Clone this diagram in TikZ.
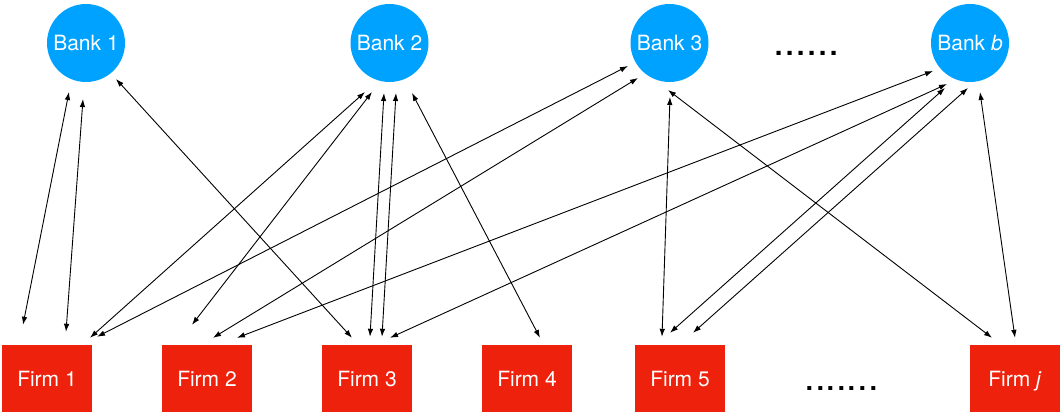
\documentclass[tikz,border=0pt]{standalone}
\usepackage{fontspec}
\setmainfont{TeX Gyre Heros}
\usetikzlibrary{calc,arrows.meta}
\definecolor{bankblue}{RGB}{0,162,255}
\definecolor{firmred}{RGB}{238,34,12}

\begin{document}
\begin{tikzpicture}[
x=1pt,y=1pt,
bank/.style={
  circle,
  fill=bankblue,
  minimum size=78pt,
  inner sep=0pt,
  text=white,
  text height=15pt,
  text depth=0pt,
  font=\fontsize{21}{25}\selectfont
  },
firm/.style={
  rectangle,
  fill=firmred,
  minimum width=90pt,
  minimum height=67pt,
  inner sep=0pt,
  text=white,
  text height=15pt,
  text depth=0pt,
  font=\fontsize{21}{25}\selectfont
  },
link/.style={
  <->,
  line width=0.9pt
  },
dots/.style={
  inner sep=0pt,
  anchor=base west
  },
>={Latex[length=8pt,width=5.5pt]}
]
\useasboundingbox (0,0) rectangle (1060,413);

% banks
\node[bank] (bank1) at (86,370) {Bank 1};
\node[bank] (bank2) at (389.5,370) {Bank 2};
\node[bank] (bank3) at (669.5,370) {Bank 3};
\node[bank] (bankb) at (970,370) {Bank \textit{b}};
\node[dots,font=\fontsize{40}{40}\selectfont] (bankdots) at (773,357) {......};

% firms
\node[firm] (firm1) at (47,34.5) {Firm 1};
\node[firm] (firm2) at (207,34.5) {Firm 2};
\node[firm] (firm3) at (367,34.5) {Firm 3};
\node[firm] (firm4) at (527,34.5) {Firm 4};
\node[firm] (firm5) at (680,34.5) {Firm 5};
\node[firm] (firmj) at (1015,34.5) {Firm \textit{j}};
\node[dots,font=\fontsize{38}{38}\selectfont] (firmdots) at (804.5,23) {.......};

% lending links
\foreach \b/\bx/\by/\f/\fx/\fy in {
  bank1/-17/-49/firm1/-24/20,
  bank1/-3/-56/firm1/19/13,
  bank1/30/-36/firm3/-15/7,
  bank2/-24.5/-49/firm1/43/7,
  bank2/-17.5/-49/firm2/-15/20,
  bank2/-5.5/-50/firm3/3/8,
  bank2/6.5/-50/firm3/15/8,
  bank2/22.5/-50/firm4/13/7,
  bank3/-41.5/-23/firm1/50/8,
  bank3/-31.5/-35/firm2/6/7,
  bank3/0.5/-54/firm5/-18/8,
  bank3/-1.5/-47/firmj/-23/7,
  bankb/-37/-28/firm2/30/7,
  bankb/-23/-41/firm3/23/7,
  bankb/-25/-45/firm5/-10/12,
  bankb/-2/-45/firm5/13/12,
  bankb/10/-49/firmj/0/7}
  \draw[link] ($(\b)+(\bx,\by)$) -- ($(\f.north)+(\fx,\fy)$);

\end{tikzpicture}
\end{document}
